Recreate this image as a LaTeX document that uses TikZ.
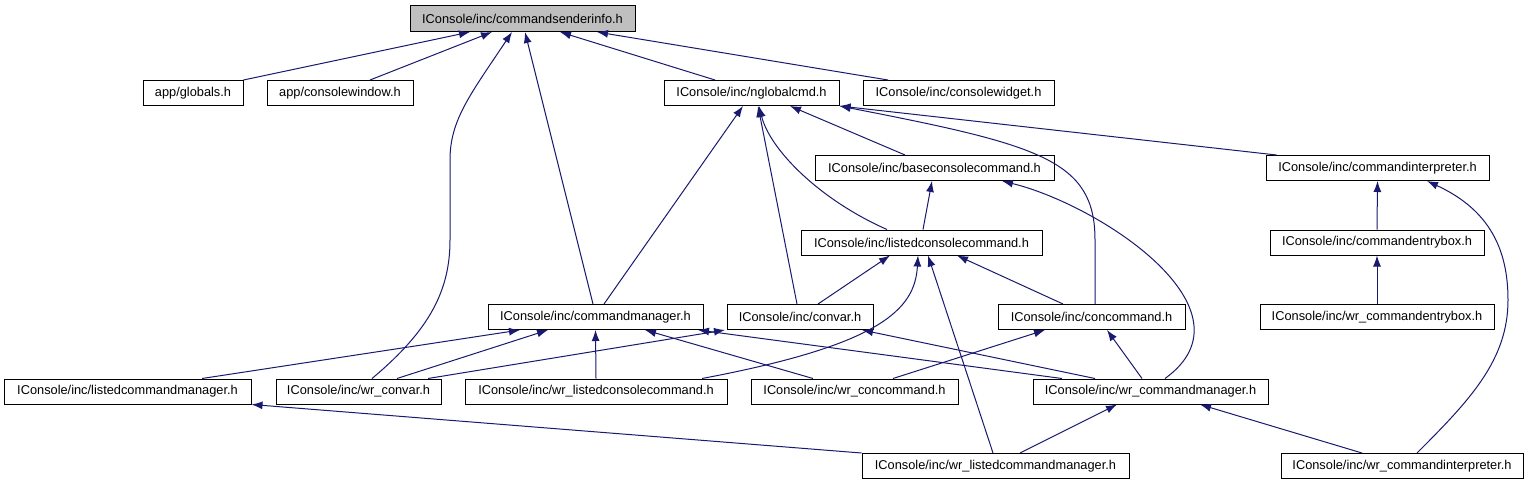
\documentclass[tikz,border=0pt]{standalone}
\usepackage{fontspec}
\setmainfont{Liberation Sans}
\usepackage{xcolor}
\usepackage{tikz}
\usetikzlibrary{arrows.meta,positioning}
\definecolor{edgeblue}{HTML}{191970}
\definecolor{rootgray}{HTML}{BFBFBF}

\begin{document}
\begin{tikzpicture}[
        x=1pt, y=-1pt,
        hdr/.style={draw=black, line width=1pt, fill=white, minimum height=25pt, inner xsep=0pt, inner ysep=0pt, font=\fontsize{12.8pt}{15pt}\selectfont},
        dep/.style={{Latex[length=11pt,width=8pt]}-, line width=1pt, draw=edgeblue}
    ]
    \path[use as bounding box, fill=white] (0,0) rectangle (1529,485);

    % headers
    \node[hdr, fill=rootgray, minimum width=225pt, minimum height=26pt] (cs) at (522.5,18.5) {IConsole/inc/commandsenderinfo.h};
    \node[hdr, minimum width=100pt] (globals) at (193,93) {app/globals.h};
    \node[hdr, minimum width=146pt] (cw) at (340,93) {app/consolewindow.h};
    \node[hdr, minimum width=175pt] (ngc) at (751.5,93) {IConsole/inc/nglobalcmd.h};
    \node[hdr, minimum width=191pt] (cwid) at (958.5,93) {IConsole/inc/consolewidget.h};
    \node[hdr, minimum width=239pt] (bcc) at (934.5,168) {IConsole/inc/baseconsolecommand.h};
    \node[hdr, minimum width=223pt] (ci) at (1377.5,168) {IConsole/inc/commandinterpreter.h};
    \node[hdr, minimum width=241pt] (lcc) at (921.5,242.5) {IConsole/inc/listedconsolecommand.h};
    \node[hdr, minimum width=214pt] (ceb) at (1377,242.5) {IConsole/inc/commandentrybox.h};
    \node[hdr, minimum width=215pt] (cm) at (595.5,317) {IConsole/inc/commandmanager.h};
    \node[hdr, minimum width=146pt] (cv) at (800,317) {IConsole/inc/convar.h};
    \node[hdr, minimum width=187pt] (cc) at (1091.5,317) {IConsole/inc/concommand.h};
    \node[hdr, minimum width=234pt] (wceb) at (1377,317) {IConsole/inc/wr\_commandentrybox.h};
    \node[hdr, minimum width=247pt] (lcm) at (127.5,391.5) {IConsole/inc/listedcommandmanager.h};
    \node[hdr, minimum width=165pt] (wcv) at (358.5,391.5) {IConsole/inc/wr\_convar.h};
    \node[hdr, minimum width=262pt] (wlcc) at (596,391.5) {IConsole/inc/wr\_listedconsolecommand.h};
    \node[hdr, minimum width=207pt] (wcc) at (854.5,391.5) {IConsole/inc/wr\_concommand.h};
    \node[hdr, minimum width=235pt] (wcm) at (1150.5,391.5) {IConsole/inc/wr\_commandmanager.h};
    \node[hdr, minimum width=267pt] (wlcm) at (995.5,466) {IConsole/inc/wr\_listedcommandmanager.h};
    \node[hdr, minimum width=242pt] (wci) at (1402,466) {IConsole/inc/wr\_commandinterpreter.h};

    % includes of commandsenderinfo.h
    \draw[dep] ([xshift=-52.5pt]cs.south) -- (globals.north east);
    \draw[dep] ([xshift=-30.5pt]cs.south) -- ([xshift=30pt]cw.north);
    \draw[dep] ([xshift=-10.5pt]cs.south) .. controls (470,95) and (450,120) .. (450,160) -- (450,240) .. controls (450,290) and (430,330) .. ([xshift=13.5pt]wcv.north);
    \draw[dep] ([xshift=2.5pt]cs.south) -- ([xshift=-2.5pt]cm.north);
    \draw[dep] ([xshift=37.5pt]cs.south) -- ([xshift=-36.5pt]ngc.north);
    \draw[dep] ([xshift=74.5pt]cs.south) -- ([xshift=-70.5pt]cwid.north);

    % nglobalcmd.h
    \draw[dep] ([xshift=-8.5pt]ngc.south) -- ([xshift=8.5pt]cm.north);
    \draw[dep] ([xshift=6.5pt]ngc.south) -- ([xshift=-3pt]cv.north);
    \draw[dep] ([xshift=7.5pt]ngc.south) .. controls (770,150) and (820,200) .. ([xshift=-34.5pt]lcc.north);
    \draw[dep] ([xshift=38.5pt]ngc.south) -- ([xshift=-29.5pt]bcc.north);
    \draw[dep] (ngc.south east) .. controls (1040,145) and (1095,160) .. (1095,240) -- ([xshift=3.5pt]cc.north);
    \draw[dep] (ngc.south east) -- ([xshift=11pt]ci.north west);

    % baseconsolecommand.h, commandinterpreter.h
    \draw[dep] ([xshift=-2.5pt]bcc.south) -- ([xshift=1.5pt]lcc.north);
    \draw[dep] ([xshift=67.5pt]bcc.south) .. controls (1100,205) and (1260,310) .. ([xshift=14.5pt]wcm.north);
    \draw[dep] (ci.south) -- (ceb.north);
    \draw[dep] ([xshift=49.5pt]ci.south) .. controls (1490,210) and (1508,250) .. (1508,300) .. controls (1508,360) and (1470,400) .. ([xshift=15pt]wci.north);
    \draw[dep] (ceb.south) -- (wceb.north);

    % listedconsolecommand.h
    \draw[dep] ([xshift=-31.5pt]lcc.south) -- ([xshift=18pt]cv.north);
    \draw[dep] ([xshift=-3.5pt]lcc.south) .. controls (915,310) and (880,345) .. ([xshift=106pt]wlcc.north);
    \draw[dep] ([xshift=6.5pt]lcc.south) -- ([xshift=-2.5pt]wlcm.north);
    \draw[dep] ([xshift=35.5pt]lcc.south) -- ([xshift=-28.5pt]cc.north);

    % commandmanager.h, convar.h, concommand.h
    \draw[dep] ([xshift=-75.5pt]cm.south) -- ([xshift=74.5pt]lcm.north);
    \draw[dep] ([xshift=-47.5pt]cm.south) -- ([xshift=38.5pt]wcv.north);
    \draw[dep] (cm.south) -- (wlcc.north);
    \draw[dep] ([xshift=49.5pt]cm.south) -- ([xshift=-41.5pt]wcc.north);
    \draw[dep] ([xshift=102.5pt]cm.south) -- ([xshift=-88.5pt]wcm.north);
    \draw[dep] ([xshift=-75pt]cv.south) -- ([xshift=69.5pt]wcv.north);
    \draw[dep] ([xshift=62pt]cv.south) -- ([xshift=-55.5pt]wcm.north);
    \draw[dep] ([xshift=-46.5pt]cc.south) -- ([xshift=38.5pt]wcc.north);
    \draw[dep] ([xshift=15.5pt]cc.south) -- ([xshift=-8.5pt]wcm.north);

    % wr_commandmanager.h, listedcommandmanager.h
    \draw[dep] ([xshift=-33.5pt]wcm.south) -- ([xshift=24.5pt]wlcm.north);
    \draw[dep] ([xshift=49.5pt]wcm.south) -- ([xshift=-40pt]wci.north);
    \draw[dep] (lcm.south east) -- (wlcm.north west);
\end{tikzpicture}
\end{document}
